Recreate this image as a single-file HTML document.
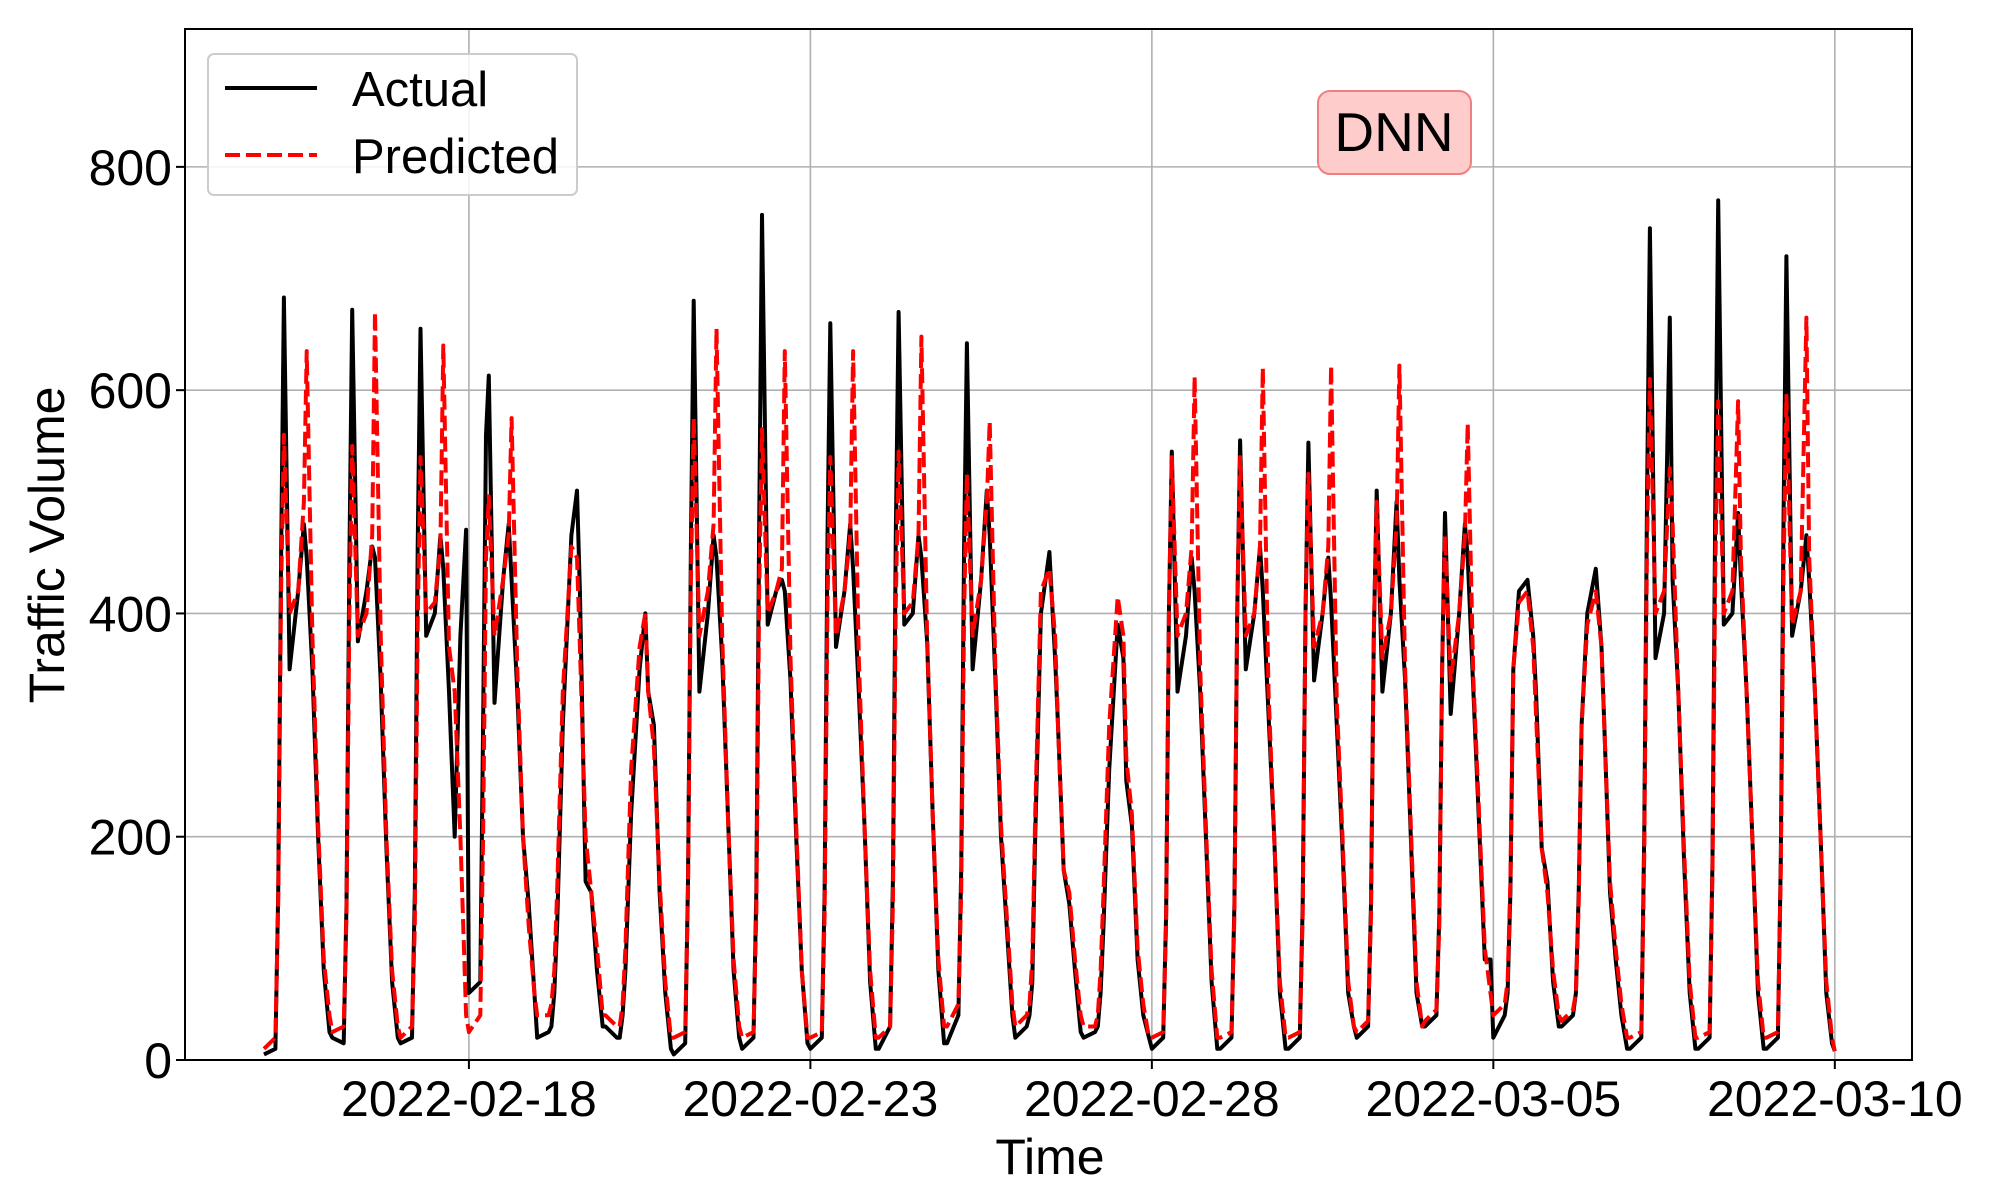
<!DOCTYPE html>
<html><head><meta charset="utf-8"><style>
html,body{margin:0;padding:0;background:#fff;}
svg{display:block;font-family:"Liberation Sans","DejaVu Sans",sans-serif;}
</style></head><body>
<svg id="chart" width="2000" height="1200" viewBox="0 0 2000 1200">
<rect x="0" y="0" width="2000" height="1200" fill="#fff"/>
<g id="grid"></g>
<g id="series"></g>
<rect x="185" y="29" width="1727" height="1031" fill="none" stroke="#000" stroke-width="2"/>
<g id="ticks"></g>
<text x="47" y="545" font-size="50" text-anchor="middle" dominant-baseline="central" transform="rotate(-90 47 545)">Traffic Volume</text>
<text x="1050" y="1174" font-size="50" text-anchor="middle">Time</text>
<g>
<rect x="208" y="54" width="369" height="141" rx="6" fill="#fff" fill-opacity="0.85" stroke="#ccc" stroke-width="2"/>
<line x1="225" y1="88" x2="317" y2="88" stroke="#000" stroke-width="4"/>
<text x="352" y="106" font-size="49">Actual</text>
<line x1="225" y1="155" x2="317" y2="155" stroke="#ff0000" stroke-width="4" stroke-dasharray="15,6"/>
<text x="352" y="173" font-size="49">Predicted</text>
</g>
<g>
<rect x="1318" y="91" width="153" height="83" rx="12" fill="#ffcccc" stroke="#f08080" stroke-width="2"/>
<text x="1394" y="151" font-size="55" text-anchor="middle">DNN</text>
</g>
</svg>
<script>
const yTicks=[0,200,400,600,800];
const xTickLabels=["2022-02-18","2022-02-23","2022-02-28","2022-03-05","2022-03-10"];
const xTickDays=[3,8,13,18,23];
const hours=[0,4,5,6,7,9,12,14,15,17,19,21,23];
const actualDays=[
[5,10,150,450,683,350,420,480,450,350,200,80,25],
[20,15,140,450,672,375,420,460,450,340,190,70,20],
[15,20,150,460,655,380,400,470,440,330,200,380,475],
[60,70,300,560,613,320,430,480,430,330,200,140,60],
[20,25,30,60,120,300,470,510,420,160,150,80,30],
[30,20,20,40,80,220,350,400,330,300,150,60,10],
[5,15,160,460,680,330,400,470,450,360,220,80,20],
[10,20,150,480,757,390,420,430,420,340,200,80,15],
[10,20,150,470,660,370,420,480,440,330,210,70,10],
[10,30,160,470,670,390,400,470,450,375,220,80,15],
[15,40,170,460,642,350,430,510,470,340,200,120,40],
[20,30,40,70,200,400,455,360,300,170,140,80,25],
[20,25,30,60,120,260,390,360,250,210,90,40,20],
[10,20,130,400,545,330,380,450,420,330,200,70,10],
[10,20,140,400,555,350,400,460,420,310,200,60,10],
[10,20,140,400,553,340,400,450,410,300,190,60,30],
[20,30,140,380,510,330,400,500,430,340,200,60,30],
[30,40,130,350,490,310,400,480,450,330,210,90,90],
[20,40,60,150,350,420,430,380,330,190,160,70,30],
[30,40,60,150,300,400,440,370,300,150,90,40,10],
[10,20,200,500,745,360,400,665,430,330,180,60,10],
[10,20,180,500,770,390,400,490,430,330,200,60,10],
[10,20,180,490,720,380,420,470,430,330,200,60,15]];
const predDays=[
[10,20,140,420,560,400,420,500,635,380,210,90,40],
[25,30,130,400,550,380,400,470,670,380,200,80,30],
[20,30,120,390,540,400,410,460,640,370,330,200,40],
[25,40,200,450,505,380,430,470,575,350,200,120,60],
[40,40,50,80,150,330,460,450,370,200,150,100,40],
[40,30,30,50,100,260,370,400,330,280,160,70,20],
[20,25,150,430,575,380,420,480,655,380,220,90,30],
[20,25,130,420,565,400,420,440,635,360,210,80,20],
[20,25,130,410,540,380,420,470,635,360,210,80,20],
[20,30,140,410,545,400,410,470,648,380,220,90,30],
[30,50,150,400,525,380,430,500,572,350,210,130,50],
[30,40,50,90,220,420,440,380,300,170,150,90,40],
[30,30,40,80,150,300,415,380,270,220,100,50,20],
[20,25,120,400,540,380,400,460,612,350,210,80,20],
[20,25,130,400,540,380,400,460,620,330,200,70,20],
[20,25,130,400,525,370,400,460,622,320,200,70,30],
[25,35,130,380,500,360,400,480,622,350,210,70,30],
[35,45,120,350,470,340,400,470,570,340,220,100,60],
[40,50,70,160,350,410,420,370,310,190,150,80,40],
[35,45,60,140,300,390,420,370,300,160,100,50,20],
[20,25,180,460,610,400,420,530,480,330,190,70,20],
[20,25,170,440,590,400,420,590,450,330,200,70,20],
[20,25,170,440,595,390,420,665,450,330,200,70,20]];
const L=185,R=1912,T=29,B=1060,YMAX=923.5,XMAX=24.13,XMIN=-1.157;
const xs=h=>L+(h/24-XMIN)/(XMAX-XMIN)*(R-L);
const ys=v=>B-v/YMAX*(B-T);
const NS="http://www.w3.org/2000/svg";
const grid=document.getElementById('grid'),ticks=document.getElementById('ticks'),series=document.getElementById('series');
function mk(tag,attrs,parent){const e=document.createElementNS(NS,tag);for(const k in attrs)e.setAttribute(k,attrs[k]);parent.appendChild(e);return e;}
yTicks.forEach(v=>{
 const y=ys(v);
 const g=mk('line',{x1:L,x2:R,y1:y,y2:y,stroke:'#b0b0b0','stroke-width':1.6},grid);
 
 
 const t=mk('line',{x1:L-9,x2:L,y1:y,y2:y,stroke:'#000','stroke-width':2},ticks);
 
 
 const lb=mk('text',{x:L-13,y:y+18,'font-size':50,'text-anchor':'end'},ticks);
 lb.textContent=v;
 
 
});
xTickDays.forEach((d,i)=>{
 const x=xs(d*24);
 const g=mk('line',{x1:x,x2:x,y1:T,y2:B,stroke:'#b0b0b0','stroke-width':1.6},grid);
 
 
 const t=mk('line',{x1:x,x2:x,y1:B,y2:B+9,stroke:'#000','stroke-width':2},ticks);
 
 
 const lb=mk('text',{x:x,y:B+56,'font-size':50,'text-anchor':'middle'},ticks);
 lb.textContent=xTickLabels[i];
 
 
});
function path(days){
 const pts=[];
 days.forEach((arr,d)=>arr.forEach((v,j)=>pts.push([xs(d*24+hours[j]),ys(v)])));
 pts.push([xs(23*24),ys(8)]);
 return pts.map((p,i)=>(i?'L':'M')+p[0].toFixed(1)+' '+p[1].toFixed(1)).join(' ');
}
const a=mk('path',{d:path(actualDays),fill:'none',stroke:'#000','stroke-width':4,'stroke-linejoin':'round'},series);


const p=mk('path',{d:path(predDays),fill:'none',stroke:'#ff0000','stroke-width':4,'stroke-dasharray':'15,6','stroke-linejoin':'round'},series);


</script>
</body></html>
